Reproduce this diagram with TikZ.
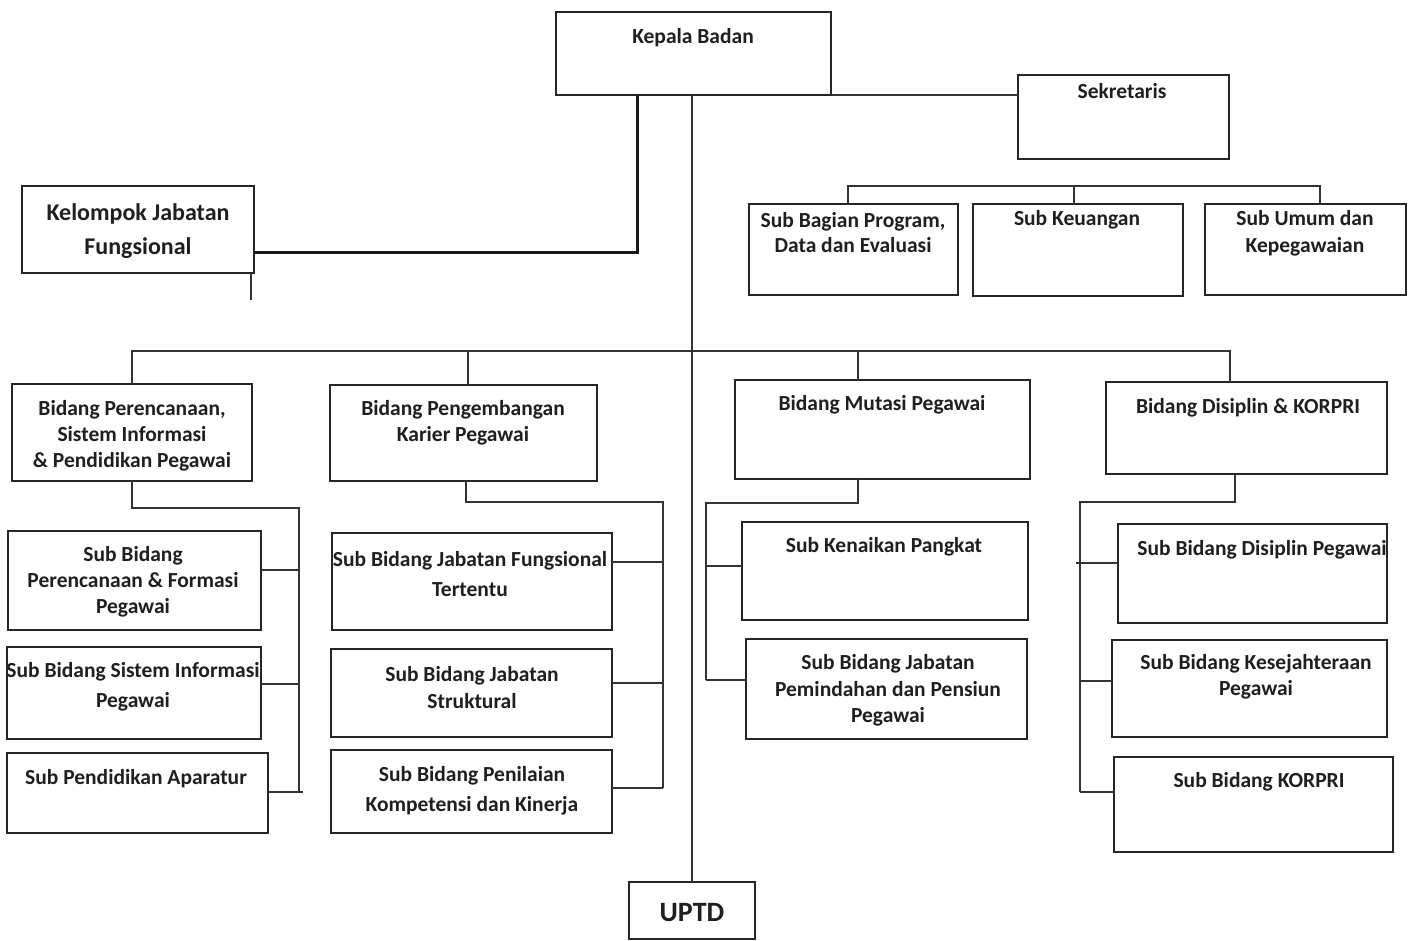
\documentclass[tikz,border=0pt]{standalone}
\usepackage{fontspec}
\setmainfont{Carlito}
\tikzset{
  box/.style={draw=black!85, line width=1.3pt, inner sep=0pt, outer sep=0pt, anchor=north west},
  txt/.style={align=center, inner sep=0pt, text=black!88, font=\bfseries, yshift=-2pt},
  ln/.style={draw=black!80, line width=1.2pt},
  thick ln/.style={draw=black!90, line width=3pt},
}
\newcommand\obox[5]{\node[box, minimum width={(#4-#2)*1pt}, minimum height={(#5-#3)*1pt}] (#1) at (#2,#3) {};}
\newcommand\otx[5]{\node[txt, font=\bfseries\fontsize{21.5}{#4}\selectfont] (#1) at (#2,#3) {#5};}
\begin{document}
\begin{tikzpicture}[x=1pt,y=-1pt]
\useasboundingbox (0,0) rectangle (1411,940);
\fill[white] (0,0) rectangle (1411,940);
% boxes
\obox{kepala}{556}{12}{831}{95}
\obox{sekr}{1018}{75}{1229}{159}
\obox{kjf}{22}{186}{254}{273}
\obox{sbp}{749}{204}{958}{295}
\obox{sk}{973}{204}{1183}{296}
\obox{su}{1205}{204}{1406}{295}
\obox{bp}{12}{384}{252}{481}
\obox{bk}{330}{385}{597}{481}
\obox{bm}{735}{380}{1030}{479}
\obox{bd}{1106}{382}{1387}{474}
\obox{p1}{8}{531}{261}{630}
\obox{p2}{7}{647}{261}{739}
\obox{p3}{7}{753}{268}{833}
\obox{k1}{332}{533}{612}{630}
\obox{k2}{331}{649}{612}{737}
\obox{k3}{331}{750}{612}{833}
\obox{m1}{742}{522}{1028}{620}
\obox{m2}{746}{639}{1027}{739}
\obox{d1}{1118}{524}{1387}{623}
\obox{d2}{1112}{640}{1387}{737}
\obox{d3}{1114}{757}{1393}{852}
\obox{uptd}{629}{882}{755}{939}
% texts
\otx{kepala-t}{693}{36}{20}{Kepala Badan}
\otx{sekr-t}{1122}{89}{20}{Sekretaris}
\node[txt, font=\bfseries\fontsize{24}{34}\selectfont] (kjf-t) at (138,229) {Kelompok Jabatan\\Fungsional};
\otx{sbp-t}{853}{230.5}{25}{Sub Bagian Program,\\Data dan Evaluasi}
\otx{sk-t}{1077}{218}{20}{Sub Keuangan}
\otx{su-t}{1305}{231.5}{27}{Sub Umum dan\\Kepegawaian}
\otx{bp-t}{132}{434}{26}{Bidang Perencanaan,\\Sistem Informasi\\\& Pendidikan Pegawai}
\otx{bk-t}{463}{421}{26}{Bidang Pengembangan\\Karier Pegawai}
\otx{bm-t}{882}{403}{20}{Bidang Mutasi Pegawai}
\otx{bd-t}{1248}{406}{20}{Bidang Disiplin \& KORPRI}
\otx{p1-t}{133}{580}{26}{Sub Bidang\\Perencanaan \& Formasi\\Pegawai}
\otx{p2-t}{133}{685}{30}{Sub Bidang Sistem Informasi\\Pegawai}
\otx{p3-t}{136}{777}{20}{Sub Pendidikan Aparatur}
\otx{k1-t}{470}{572}{30}{Sub Bidang Jabatan Fungsional\\Tertentu}
\otx{k2-t}{472}{685.5}{27}{Sub Bidang Jabatan\\Struktural}
\otx{k3-t}{472}{789}{30}{Sub Bidang Penilaian\\Kompetensi dan Kinerja}
\otx{m1-t}{884}{545}{20}{Sub Kenaikan Pangkat}
\otx{m2-t}{888}{688.5}{26.5}{Sub Bidang Jabatan\\Pemindahan dan Pensiun\\Pegawai}
\otx{d1-t}{1262}{548}{20}{Sub Bidang Disiplin Pegawai}
\otx{d2-t}{1256}{675}{26}{Sub Bidang Kesejahteraan\\Pegawai}
\otx{d3-t}{1259}{780}{20}{Sub Bidang KORPRI}
\node[txt, font=\bfseries\fontsize{28}{30}\selectfont] (uptd-t) at (692,911) {UPTD};
% coordinates
\coordinate (kjftick) at (251,300);
% connectors
\draw[thick ln] (kepala.south -| 637,0) |- (kjf.east |- 0,252);
\draw[ln] (kjf.south -| kjftick) -- (kjftick);
\draw[ln] (kepala.south east) -- (sekr.west |- kepala.south);
\draw[ln] (kepala.south -| 692,0) -- (uptd.north -| 692,0);
% secretariat
\draw[ln] (sbp.north -| 848,0) -- (848,186) -- (1320,186) -- (su.north -| 1320,0);
\draw[ln] (1074,186) -- (sk.north -| 1074,0);
% main bus
\draw[ln] (bp.north) -- (132,351) -- (1230,351) -- (bd.north -| 1230,0);
\draw[ln] (468,351) -- (bk.north -| 468,0);
\draw[ln] (858,351) -- (bm.north -| 858,0);
% group 1
\draw[ln] (bp.south -| 132,0) -- (132,508) -- (299,508) -- (299,792);
\draw[ln] (p1.east |- 0,570) -- (299,570);
\draw[ln] (p2.east |- 0,684) -- (299,684);
\draw[ln, line width=2pt] (p3.east |- 0,792) -- (303,792);
% group 2
\draw[ln] (bk.south -| 466,0) -- (466,502) -- (663,502) -- (663,788);
\draw[ln] (k1.east |- 0,562) -- (663,562);
\draw[ln] (k2.east |- 0,683) -- (663,683);
\draw[ln] (k3.east |- 0,788) -- (663,788);
% group 3
\draw[ln] (bm.south -| 858,0) -- (858,503) -- (706,503) -- (706,680);
\draw[ln] (706,566) -- (m1.west |- 0,566);
\draw[ln] (706,680) -- (m2.west |- 0,680);
% group 4
\draw[ln] (bd.south -| 1235,0) -- (1235,502) -- (1080,502) -- (1080,792);
\draw[ln] (1076,563) -- (d1.west |- 0,563);
\draw[ln] (1080,681) -- (d2.west |- 0,681);
\draw[ln] (1080,792) -- (d3.west |- 0,792);
\end{tikzpicture}
\end{document}
